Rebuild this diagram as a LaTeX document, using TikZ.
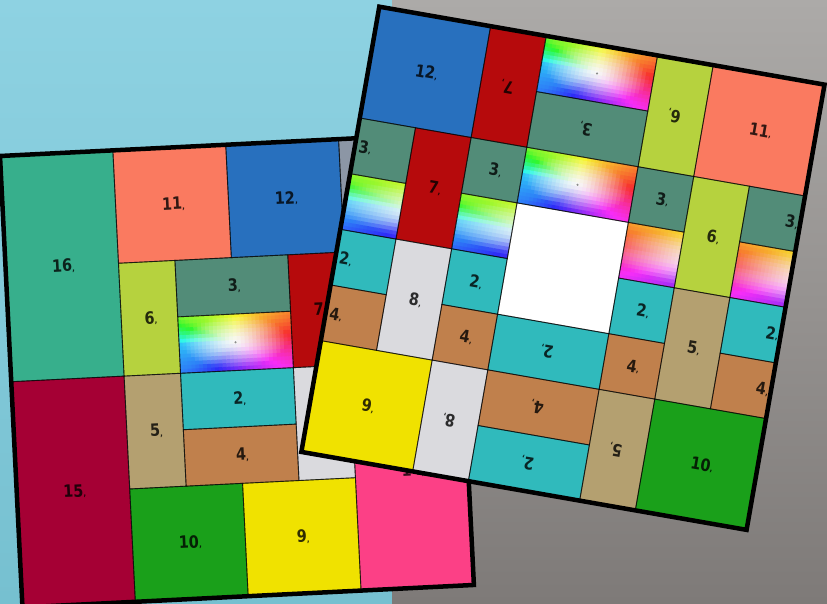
\documentclass[tikz,border=0pt]{standalone}
\usepackage{fontspec}
\newfontfamily\lblfont{DejaVu Sans}[FakeStretch=0.85]
\definecolor{bgblue}{RGB}{142,210,226}
\definecolor{bgblueb}{RGB}{118,192,208}
\definecolor{bggreyt}{RGB}{172,170,168}
\definecolor{bggreyb}{RGB}{126,122,120}
\definecolor{cteal}{RGB}{55,175,140}
\definecolor{csalmon}{RGB}{250,122,96}
\definecolor{cblue}{RGB}{40,112,190}
\definecolor{cgreyb}{RGB}{140,150,165}
\definecolor{cygreen}{RGB}{182,210,62}
\definecolor{cggreen}{RGB}{82,140,120}
\definecolor{cred}{RGB}{182,10,12}
\definecolor{ccrimson}{RGB}{165,0,52}
\definecolor{ctan}{RGB}{180,160,112}
\definecolor{ccyan}{RGB}{48,186,188}
\definecolor{cbrown}{RGB}{192,128,76}
\definecolor{clgrey}{RGB}{218,218,222}
\definecolor{cpink}{RGB}{252,64,134}
\definecolor{cgreen}{RGB}{26,160,26}
\definecolor{cyellow}{RGB}{240,226,0}
\newcommand\gu{56.5}
\newcommand\blkfill[5]{\fill[#5] (#1*\gu,-#2*\gu) rectangle (#3*\gu,-#4*\gu);}
\newcommand\blkdraw[5]{\draw[cellline] (#1*\gu,-#2*\gu) rectangle (#3*\gu,-#4*\gu);}
\newcommand\mk{\rlap{\fontsize{8}{8}\selectfont ,}}
% hue wheel: u0 v0 w h cu cv ru rv
\newcommand\wheel[8]{%
 \begin{scope}
 \clip (#1,-#2) rectangle ++(#3,-#4);
 \pgfmathtruncatemacro\wnx{ceil(#3/4)}%
 \pgfmathtruncatemacro\wny{ceil(#4/4)}%
 \pgfmathsetmacro\wdx{#3/\wnx}%
 \pgfmathsetmacro\wdy{#4/\wny}%
 \pgfmathtruncatemacro\wnxm{\wnx-1}%
 \pgfmathtruncatemacro\wnym{\wny-1}%
 \foreach \wi in {0,...,\wnxm}{%
  \foreach \wj in {0,...,\wnym}{%
   \pgfmathsetmacro\wpu{#1+(\wi+0.5)*\wdx}%
   \pgfmathsetmacro\wpv{#2+(\wj+0.5)*\wdy}%
   \pgfmathsetmacro\wdu{(\wpu-(#5))/(#7)+0.0001}%
   \pgfmathsetmacro\wdv{-(\wpv-(#6))/(#8)+0.0001}%
   \pgfmathsetmacro\wang{mod(atan2(\wdv,\wdu)+360,360)}%
   \pgfmathsetmacro\whh{\wang<135 ? 0.8*\wang-10 : (\wang<180 ? 98+2.1*(\wang-135) : (\wang<225 ? 195+0.444*(\wang-180) : 215+(\wang-225)))}%
   \pgfmathsetmacro\whn{mod(\whh+360,360)/360}%
   \pgfmathsetmacro\wrr{sqrt(\wdu*\wdu+\wdv*\wdv)}%
   \pgfmathsetmacro\wsat{min(0.82,0.9*\wrr^1.4)}%
   \definecolor{wc}{hsb}{\whn,\wsat,0.97}%
   \fill[wc] (\wpu-\wdx/2-0.4,-\wpv+\wdy/2+0.4) rectangle ++(\wdx+0.8,-\wdy-0.8);
  }}
 \end{scope}}
\newcommand\Lblocks{%
\B{0}{0}{2}{4}{cteal}%
\B{2}{0}{4}{2}{csalmon}%
\B{4}{0}{6}{2}{cblue}%
\B{6}{0}{8}{4}{cgreyb}%
\B{2}{2}{3}{4}{cygreen}%
\B{3}{2}{5}{3}{cggreen}%
\B{3}{3}{5}{4}{white}%
\B{5}{2}{6}{4}{cred}%
\B{0}{4}{2}{8}{ccrimson}%
\B{2}{4}{3}{6}{ctan}%
\B{3}{4}{5}{5}{ccyan}%
\B{3}{5}{5}{6}{cbrown}%
\B{5}{4}{6}{6}{clgrey}%
\B{6}{4}{8}{8}{cpink}%
\B{2}{6}{4}{8}{cgreen}%
\B{4}{6}{6}{8}{cyellow}}
\newcommand\Rblocks{%
\B{0}{0}{2}{2}{cblue}%
\B{2}{0}{3}{2}{cred}%
\B{3}{0}{5}{1}{white}%
\B{3}{1}{5}{2}{cggreen}%
\B{5}{0}{6}{2}{cygreen}%
\B{6}{0}{8}{2}{csalmon}%
\B{0}{2}{1}{3}{cggreen}%
\B{0}{3}{1}{4}{white}%
\B{1}{2}{2}{4}{cred}%
\B{2}{2}{3}{3}{cggreen}%
\B{2}{3}{3}{4}{white}%
\B{3}{2}{5}{3}{white}%
\B{5}{2}{6}{3}{cggreen}%
\B{5}{3}{6}{4}{white}%
\B{6}{2}{7}{4}{cygreen}%
\B{7}{2}{8}{3}{cggreen}%
\B{7}{3}{8}{4}{white}%
\B{3}{3}{5}{5}{white}%
\B{0}{4}{1}{5}{ccyan}%
\B{1}{4}{2}{6}{clgrey}%
\B{2}{4}{3}{5}{ccyan}%
\B{5}{4}{6}{5}{ccyan}%
\B{6}{4}{7}{6}{ctan}%
\B{7}{4}{8}{5}{ccyan}%
\B{0}{5}{1}{6}{cbrown}%
\B{2}{5}{3}{6}{cbrown}%
\B{3}{5}{5}{6}{ccyan}%
\B{5}{5}{6}{6}{cbrown}%
\B{7}{5}{8}{6}{cbrown}%
\B{0}{6}{2}{8}{cyellow}%
\B{2}{6}{3}{8}{clgrey}%
\B{3}{6}{5}{7}{cbrown}%
\B{3}{7}{5}{8}{ccyan}%
\B{5}{6}{6}{8}{ctan}%
\B{6}{6}{8}{8}{cgreen}}
\begin{document}
\begin{tikzpicture}[x=1pt,y=1pt,
  cellline/.style={draw=black,draw opacity=0.6,line width=0.9pt},
  frame/.style={draw=black,line width=4.5pt,line join=miter},
  lbl/.style={font=\lblfont\bfseries\fontsize{17}{17}\selectfont,text=black,text opacity=0.8,inner sep=0pt,transform shape},
  cdot/.style={fill=black!45}]
\useasboundingbox (0,0) rectangle (827,603);
\clip (0,0) rectangle (827,603);
\shade[top color=bgblue,bottom color=bgblueb] (0,0) rectangle (392,603);
\shade[top color=bggreyt,bottom color=bggreyb] (392,0) rectangle (827,603);
% left square
\begin{scope}[shift={(0,447)},rotate=2.85]
 \let\B\blkfill \Lblocks
 \wheel{169.5}{169.5}{113}{56.5}{226}{197.75}{56.5}{28.25}
 \fill[cdot] (226,-197.75) circle (1.2);
 \let\B\blkdraw \Lblocks
 \node[lbl] (L16) at (56.5,-113) {16\mk};
 \node[lbl] (L11) at (169.5,-56.5) {11\mk};
 \node[lbl] (L12) at (282.5,-56.5) {12\mk};
 \node[lbl] (L6) at (141.25,-169.5) {6\mk};
 \node[lbl] (L3) at (226,-141.25) {3\mk};
 \node[lbl] (L7) at (310.75,-169.5) {7\mk};
 \node[lbl] (L15) at (56.5,-339) {15\mk};
 \node[lbl] (L5) at (141.25,-282.5) {5\mk};
 \node[lbl] (L2) at (226,-254.25) {2\mk};
 \node[lbl] (L4) at (226,-310.75) {4\mk};
 \node[lbl] (L14) at (395.5,-334) {14\mk};
 \node[lbl] (L10) at (169.5,-395.5) {10\mk};
 \node[lbl] (L9) at (282.5,-395.5) {9\mk};
 \draw[frame] (0,0) rectangle (452,-452);
\end{scope}
% right square
\begin{scope}[shift={(379.3,596.3)},rotate=-9.93]
 \let\B\blkfill \Rblocks
 \wheel{169.5}{0}{113}{56.5}{226}{28.25}{56.5}{28.25}
 \wheel{169.5}{113}{113}{56.5}{226}{141.25}{56.5}{28.25}
 \wheel{0}{169.5}{56.5}{56.5}{84.75}{197.75}{113}{28.25}
 \wheel{113}{169.5}{56.5}{56.5}{197.75}{197.75}{113}{28.25}
 \wheel{282.5}{169.5}{56.5}{56.5}{367.25}{197.75}{-113}{28.25}
 \wheel{395.5}{169.5}{56.5}{56.5}{480.25}{197.75}{-113}{28.25}
 \fill[cdot] (226,-28.25) circle (1.2);
 \fill[cdot] (226,-141.25) circle (1.2);
 \let\B\blkdraw \Rblocks
 \node[lbl] (R12) at (56.5,-56.5) {12\mk};
 \node[lbl,rotate=180] (R7a) at (141.25,-56.5) {7\mk};
 \node[lbl,rotate=180] (R3a) at (226,-84.75) {3\mk};
 \node[lbl,rotate=180] (R6a) at (310.75,-56.5) {6\mk};
 \node[lbl] (R11) at (395.5,-56.5) {11\mk};
 \node[lbl] (R3b) at (9,-141.25) {3\mk};
 \node[lbl] (R7b) at (84.75,-169.5) {7\mk};
 \node[lbl] (R3c) at (141.25,-141.25) {3\mk};
 \node[lbl] (R3d) at (310.75,-141.25) {3\mk};
 \node[lbl] (R6b) at (367.25,-169.5) {6\mk};
 \node[lbl] (R3e) at (442,-141.25) {3\mk};
 \node[lbl] (R2a) at (9,-254.25) {2\mk};
 \node[lbl] (R8a) at (84.75,-282.5) {8\mk};
 \node[lbl] (R2b) at (141.25,-254.25) {2\mk};
 \node[lbl] (R2c) at (310.75,-254.25) {2\mk};
 \node[lbl] (R5a) at (367.25,-282.5) {5\mk};
 \node[lbl] (R2d) at (442,-254.25) {2\mk};
 \node[lbl] (R4a) at (9,-310.75) {4\mk};
 \node[lbl] (R4b) at (141.25,-310.75) {4\mk};
 \node[lbl,rotate=180] (R2e) at (226,-310.75) {2\mk};
 \node[lbl] (R4c) at (310.75,-310.75) {4\mk};
 \node[lbl] (R4d) at (442,-310.75) {4\mk};
 \node[lbl] (R9) at (56.5,-395.5) {9\mk};
 \node[lbl,rotate=180] (R8b) at (141.25,-395.5) {8\mk};
 \node[lbl,rotate=180] (R4e) at (226,-367.25) {4\mk};
 \node[lbl,rotate=180] (R2f) at (226,-423.75) {2\mk};
 \node[lbl,rotate=180] (R5b) at (310.75,-395.5) {5\mk};
 \node[lbl] (R10) at (395.5,-395.5) {10\mk};
 \draw[frame] (0,0) rectangle (452,-452);
\end{scope}
\end{tikzpicture}
\end{document}
